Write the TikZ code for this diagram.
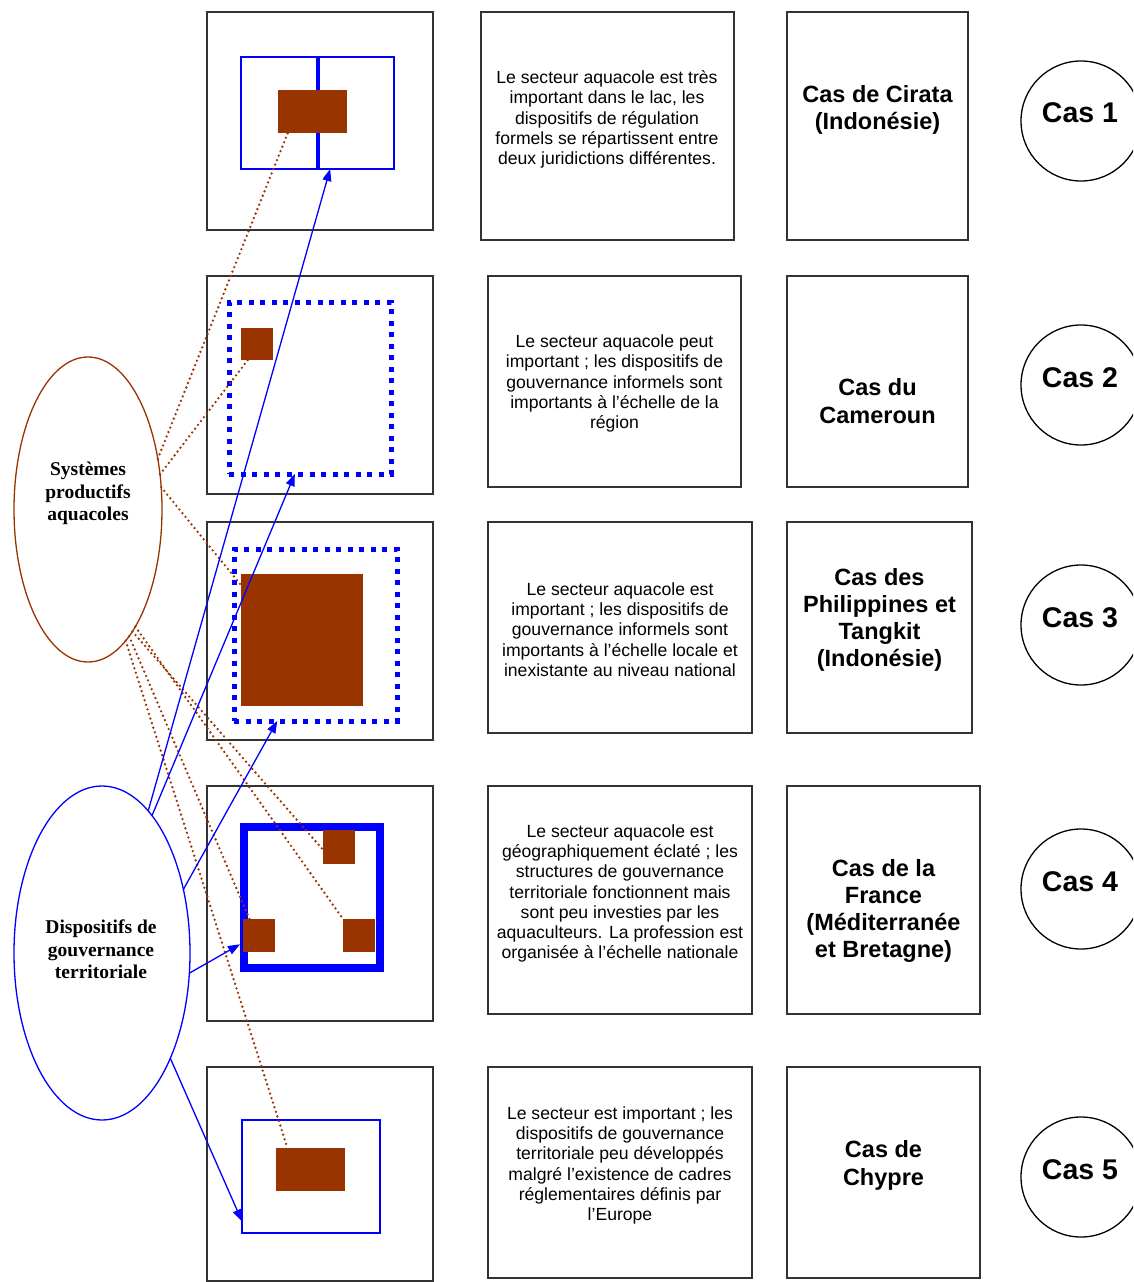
\documentclass[tikz,border=0pt]{standalone}
\usepackage{fontspec}
\setmainfont{Liberation Sans}
\newfontfamily\serifb{Liberation Serif}
\usetikzlibrary{shapes.geometric,arrows.meta,calc}
\definecolor{brn}{HTML}{993300}
\definecolor{blu}{HTML}{0000FF}
\begin{document}
\begin{tikzpicture}[x=1pt,y=-1pt,
 pbox/.style={draw=black!80,line width=1.3pt,inner sep=0pt,outer sep=0pt},
 desctext/.style={align=center,font=\fontsize{17.6}{20.3}\selectfont,inner sep=0pt},
 cashead/.style={align=center,font=\fontsize{23.5}{27.2}\selectfont\bfseries,inner sep=0pt},
 caslbl/.style={font=\fontsize{28.5}{33}\selectfont\bfseries,inner sep=0pt},
 casc/.style={circle,draw=black,line width=1.3pt,minimum size=120pt,inner sep=0pt},
 zone/.style={draw=blu,line width=2pt,inner sep=0pt,outer sep=0pt},
 dotzone/.style={draw=blu,line width=5pt,dash pattern=on 5pt off 6.5pt,inner sep=0pt,outer sep=0pt},
 thickzone/.style={draw=blu,line width=8pt,inner sep=0pt},
 farm/.style={fill=brn,inner sep=0pt,outer sep=0pt},
 ell/.style={ellipse,line width=1.3pt,inner sep=0pt,outer sep=0pt},
 elltext/.style={align=center,inner sep=0pt,font=\fontsize{19.5}{22.4}\serifb\bfseries},
 link/.style={brn,line width=2.6pt,dash pattern=on 0pt off 4.8pt,line cap=round},
 arr/.style={blu,line width=1.3pt,-{Triangle[length=12pt,width=9pt]}}
]
\useasboundingbox (0,0) rectangle (1133,1282);
\clip (0,0) rectangle (1133,1282);

% column 1 frames
\node[pbox,minimum width=226,minimum height=218] (p1) at (320,121) {};
\node[pbox,minimum width=226,minimum height=218] (p2) at (320,385) {};
\node[pbox,minimum width=226,minimum height=218] (p3) at (320,631) {};
\node[pbox,minimum width=226,minimum height=235] (p4) at (320,903.5) {};
\node[pbox,minimum width=226,minimum height=214] (p5) at (320,1174) {};

% column 2 frames + text
\node[pbox,minimum width=253,minimum height=228] (d1) at (607.5,126) {};
\node[pbox,minimum width=253,minimum height=211] (d2box) at (614.5,381.5) {};
\node[pbox,minimum width=264,minimum height=211] (d3box) at (620,627.5) {};
\node[pbox,minimum width=264,minimum height=228] (d4box) at (620,900) {};
\node[pbox,minimum width=264,minimum height=211] (d5box) at (620,1172.5) {};

\node[desctext] (t1) at (607,119.5) {Le secteur aquacole est très\\important dans le lac, les\\dispositifs de régulation\\formels se répartissent entre\\deux juridictions différentes.};
\node[desctext] (t2) at (614.5,383.5) {Le secteur aquacole peut\\important ; les dispositifs de\\gouvernance informels sont\\importants à l’échelle de la\\région};
\node[desctext] (t3) at (620,629.5) {Le secteur aquacole est\\important ; les dispositifs de\\gouvernance informels sont\\importants à l’échelle locale et\\inexistante au niveau national};
\node[desctext] (t4) at (620,893.5) {Le secteur aquacole est\\géographiquement éclaté ; les\\structures de gouvernance\\territoriale fonctionnent mais\\sont peu investies par les\\aquaculteurs. La profession est\\organisée à l’échelle nationale};
\node[desctext] (t5) at (620,1165.5) {Le secteur est important ; les\\dispositifs de gouvernance\\territoriale peu développés\\malgré l’existence de cadres\\réglementaires définis par\\l’Europe};

% column 3 frames + titles
\node[pbox,minimum width=181,minimum height=228] (c1) at (877.5,126) {};
\node[pbox,minimum width=181,minimum height=211] (c2) at (877.5,381.5) {};
\node[pbox,minimum width=185,minimum height=211] (c3) at (879.5,627.5) {};
\node[pbox,minimum width=193,minimum height=228] (c4) at (883.5,900) {};
\node[pbox,minimum width=193,minimum height=211] (c5) at (883.5,1172.5) {};

\node[cashead] (h1) at (877.5,110) {Cas de Cirata\\(Indonésie)};
\node[cashead] (h2) at (877.5,401) {Cas du\\Cameroun};
\node[cashead] (h3) at (879.5,620) {Cas des\\Philippines et\\Tangkit\\(Indonésie)};
\node[cashead] (h4) at (883.5,911) {Cas de la\\France\\(Méditerranée\\et Bretagne)};
\node[cashead] (h5) at (883.5,1165.5) {Cas de\\Chypre};

% circles
\node[casc] (k1) at (1081,121) {};
\node[casc] (k2) at (1081,385) {};
\node[casc] (k3) at (1081,625) {};
\node[casc] (k4) at (1081,889) {};
\node[casc] (k5) at (1081,1177) {};
\node[caslbl] (l1) at (1080,113) {Cas 1};
\node[caslbl] (l2) at (1080,378) {Cas 2};
\node[caslbl] (l3) at (1080,618) {Cas 3};
\node[caslbl] (l4) at (1080,882) {Cas 4};
\node[caslbl] (l5) at (1080,1170) {Cas 5};

% inner drawings
\node[zone,minimum width=75.5,minimum height=112] (b1a) at (278.75,113) {};
\node[zone,minimum width=75.5,minimum height=112] (b1b) at (356.25,113) {};
\node[farm,minimum width=69,minimum height=43] (r1) at (312.5,111.5) {};

\node[dotzone,minimum width=162,minimum height=172] (z2) at (310,388) {};
\node[farm,minimum width=32,minimum height=32] (s2) at (257,344) {};

\node[dotzone,minimum width=163,minimum height=172] (z3) at (315.5,635) {};
\node[farm,minimum width=122,minimum height=132] (r3) at (302,640) {};

\node[thickzone,minimum width=136,minimum height=141] (z4) at (312,897.5) {};
\node[farm,minimum width=32,minimum height=34] (q1) at (339,847) {};
\node[farm,minimum width=32,minimum height=33] (q2) at (259,935.5) {};
\node[farm,minimum width=32,minimum height=33] (q3) at (359,935.5) {};

\node[zone,minimum width=138,minimum height=113] (z5) at (311,1176.5) {};
\node[farm,minimum width=69,minimum height=43] (r5) at (310.5,1169.5) {};

% ellipses
\node[ell,draw=brn,minimum width=148,minimum height=305] (sys) at (88,509.5) {};
\node[elltext] (systxt) at (88,493.5) {Systèmes\\productifs\\aquacoles};
\node[ell,draw=blu,minimum width=176,minimum height=334] (gov) at (102,953) {};
\node[elltext] (govtxt) at (101,949.5) {Dispositifs de\\gouvernance\\territoriale};

% dotted links
\draw[link] (sys.36) -- (r1.221);
\draw[link] (sys.26) -- (s2.240);
\draw[link] (sys.17) -- (r3.138);
\draw[link] (sys.-70) -- (q1.190);
\draw[link] (sys.-68) -- (q3.north west);
\draw[link] (sys.-72) -- (q2.120);
\draw[link] (sys.-74) -- (r5.137);

% arrows
\draw[arr] (gov.72) -- (b1b.245);
\draw[arr] (gov.70) -- (z2.260);
\draw[arr] (gov.38) -- (z3.246);
\draw[arr] (gov.-13) -- (z4.213);
\draw[arr] (gov.-57) -- (z5.213);
\end{tikzpicture}
\end{document}
